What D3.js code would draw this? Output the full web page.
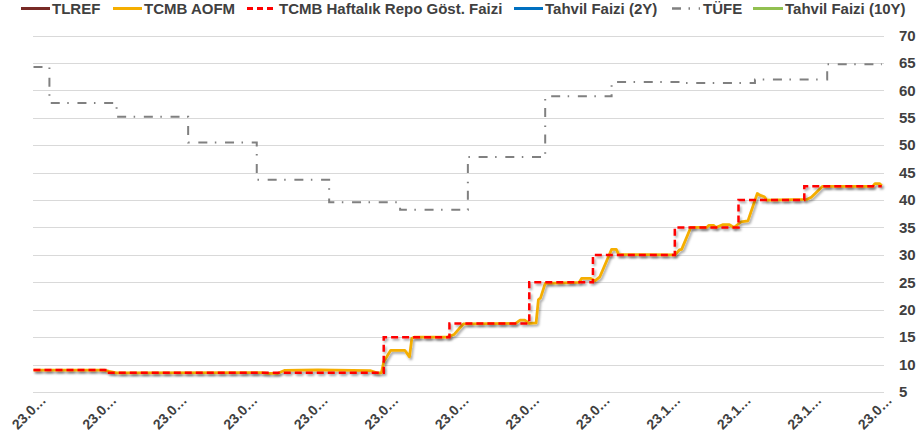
<!DOCTYPE html>
<html>
<head>
<meta charset="utf-8">
<script src="https://cdn.jsdelivr.net/npm/d3@7"></script>
<style>
  body { margin: 0; background: #fff; }
  text { font-family: "Liberation Sans", Arial, sans-serif; font-weight: bold; fill: #404040; }
</style>
</head>
<body>
<div class="chart"></div>
<script>
// monthly tick dates and their (truncated) labels
var tickDates = ["2023-01-23", "2023-02-23", "2023-03-23", "2023-04-23", "2023-05-23", "2023-06-23",
  "2023-07-23", "2023-08-23", "2023-09-23", "2023-10-23", "2023-11-23", "2023-12-23", "2024-01-23"];
var tickLabels = ["23.0…", "23.0…", "23.0…", "23.0…", "23.0…", "23.0…", "23.0…",
  "23.0…", "23.0…", "23.1…", "23.1…", "23.1…", "23.0…"];
var yTicks = [5, 10, 15, 20, 25, 30, 35, 40, 45, 50, 55, 60, 65, 70];

var legendNames = ["TLREF", "TCMB AOFM", "TCMB Haftalık Repo Göst. Faizi", "Tahvil Faizi (2Y)", "TÜFE", "Tahvil Faizi (10Y)"];

// TCMB one week repo (step)
var repo = [["2023-01-23", 9], ["2023-02-24", 8.5], ["2023-06-22", 15], ["2023-07-20", 17.5],
  ["2023-08-24", 25], ["2023-09-21", 30], ["2023-10-26", 35], ["2023-11-23", 40],
  ["2023-12-21", 42.5], ["2024-01-24", 42.5]];

// TCMB weighted average funding cost
var aofm = [["2023-01-23", 9.0], ["2023-02-23", 9.0], ["2023-02-25", 8.75], ["2023-02-28", 8.5],
  ["2023-04-30", 8.55], ["2023-05-03", 8.4], ["2023-05-07", 8.4], ["2023-05-10", 8.95],
  ["2023-05-24", 9.05], ["2023-06-16", 8.9], ["2023-06-19", 8.5], ["2023-06-21", 8.5],
  ["2023-06-22", 10.5], ["2023-06-25", 12.6], ["2023-07-01", 12.6], ["2023-07-03", 11.4],
  ["2023-07-04", 14.8], ["2023-07-05", 15.0], ["2023-07-19", 15.0], ["2023-07-22", 15.5],
  ["2023-07-26", 17.4], ["2023-08-18", 17.5], ["2023-08-20", 18.1], ["2023-08-22", 18.1],
  ["2023-08-24", 17.5], ["2023-08-27", 17.6], ["2023-08-28", 21.8], ["2023-08-29", 22.2],
  ["2023-08-31", 24.8], ["2023-09-15", 25.0], ["2023-09-16", 25.7], ["2023-09-20", 25.7],
  ["2023-09-22", 25.3], ["2023-09-24", 26.0], ["2023-09-29", 31.0], ["2023-10-01", 31.0],
  ["2023-10-02", 30.1], ["2023-10-26", 30.0], ["2023-10-28", 30.9], ["2023-10-29", 31.0],
  ["2023-11-02", 35.0], ["2023-11-09", 35.0], ["2023-11-10", 35.4], ["2023-11-12", 35.4],
  ["2023-11-13", 35.0], ["2023-11-16", 35.5], ["2023-11-19", 35.5], ["2023-11-21", 35.0],
  ["2023-11-24", 36.0], ["2023-11-27", 36.2], ["2023-12-01", 41.2], ["2023-12-02", 40.9],
  ["2023-12-04", 40.6], ["2023-12-05", 40.0], ["2023-12-22", 40.1], ["2023-12-24", 40.5],
  ["2023-12-29", 42.5], ["2024-01-20", 42.5], ["2024-01-21", 43.0], ["2024-01-23", 43.0],
  ["2024-01-24", 42.6]];

// annual CPI (step)
var tufe = [["2023-01-23", 64.27], ["2023-01-30", 57.68], ["2023-02-28", 55.18], ["2023-03-29", 50.51],
  ["2023-04-28", 43.68], ["2023-05-29", 39.59], ["2023-06-29", 38.21], ["2023-07-28", 47.83],
  ["2023-08-31", 58.94], ["2023-09-29", 61.53], ["2023-10-30", 61.36], ["2023-11-30", 61.98],
  ["2023-12-31", 64.77], ["2024-01-24", 64.77]];

var parse = d3.timeParse("%Y-%m-%d");
var width = 922, height = 440;
var left = 33, right = 884;

var svg = d3.select(".chart")
  .append("svg")
    .attr("width", width)
    .attr("height", height);

var defs = svg.append("defs");
defs.append("filter")
    .attr("id", "shadow")
    .attr("x", "-5%").attr("y", "-20%").attr("width", "110%").attr("height", "140%")
  .append("feDropShadow")
    .attr("dx", 1.5).attr("dy", 2)
    .attr("stdDeviation", 1.3)
    .attr("flood-color", "#000")
    .attr("flood-opacity", 0.35);

// labels are evenly spaced, so map each monthly tick to an equal step
var x = d3.scaleTime()
  .domain(tickDates.map(parse))
  .range(tickDates.map(function(d, i) { return 33.5 + i * 70.5; }));

var y = d3.scaleLinear()
  .domain([5, 70])
  .range([392, 35.5]);

// gridlines
svg.append("g")
  .selectAll("line")
  .data(yTicks)
  .enter()
  .append("line")
    .attr("x1", left).attr("x2", right)
    .attr("y1", function(d) { return Math.round(y(d)) + 0.5; })
    .attr("y2", function(d) { return Math.round(y(d)) + 0.5; })
    .attr("stroke", "#d9d9d9")
    .attr("stroke-width", 1);

// right y axis labels
svg.append("g")
  .selectAll("text")
  .data(yTicks)
  .enter()
  .append("text")
    .attr("x", 899)
    .attr("y", function(d) { return y(d); })
    .attr("dy", "0.35em")
    .style("font-size", "15px")
    .text(function(d) { return d; });

// rotated x labels
svg.append("g")
  .selectAll("text")
  .data(tickDates)
  .enter()
  .append("text")
    .attr("transform", function(d) { return "translate(" + (x(parse(d)) + 13.5) + ",401) rotate(-45)"; })
    .attr("text-anchor", "end")
    .style("font-size", "14px")
    .text(function(d, i) { return tickLabels[i]; });

function toPts(arr) {
  return arr.map(function(d) { return [parse(d[0]), d[1]]; });
}

var lineLinear = d3.line()
  .x(function(d) { return x(d[0]); })
  .y(function(d) { return y(d[1]); });

var lineStep = d3.line()
  .curve(d3.curveStepAfter)
  .x(function(d) { return x(d[0]); })
  .y(function(d) { return y(d[1]); });

svg.append("path")
  .datum(toPts(tufe))
  .attr("d", lineStep)
  .attr("fill", "none")
  .attr("stroke", "#808080")
  .attr("stroke-width", 2)
  .attr("stroke-dasharray", "9,7.5,1.5,8.7");

svg.append("path")
  .datum(toPts(aofm))
  .attr("d", lineLinear)
  .attr("fill", "none")
  .attr("stroke", "#f5ae00")
  .attr("stroke-width", 2.75)
  .attr("stroke-linejoin", "round")
  .attr("filter", "url(#shadow)");

svg.append("path")
  .datum(toPts(repo))
  .attr("d", lineStep)
  .attr("fill", "none")
  .attr("stroke", "#ff0000")
  .attr("stroke-width", 2.5)
  .attr("stroke-dasharray", "7,4")
  .attr("filter", "url(#shadow)");

// legend
var legendStyle = [
  {x1: 21, x2: 50, tx: 52, color: "#782a26", dash: null, w: 3},
  {x1: 113, x2: 142, tx: 144, color: "#f5ae00", dash: null, w: 3},
  {x1: 247, x2: 273, tx: 279, color: "#ff0000", dash: "6,4", w: 3},
  {x1: 514, x2: 543, tx: 545, color: "#0070c0", dash: null, w: 3},
  {x1: 672, x2: 700, tx: 703, color: "#808080", dash: "9,7.5,1.5,8.7", w: 2.5},
  {x1: 753, x2: 783, tx: 785, color: "#92c050", dash: null, w: 3}
];

var legend = svg.append("g")
  .selectAll("g")
  .data(legendNames)
  .enter()
  .append("g");

legend.append("line")
  .attr("x1", function(d, i) { return legendStyle[i].x1; })
  .attr("x2", function(d, i) { return legendStyle[i].x2; })
  .attr("y1", 8.5).attr("y2", 8.5)
  .attr("stroke", function(d, i) { return legendStyle[i].color; })
  .attr("stroke-width", function(d, i) { return legendStyle[i].w; })
  .attr("stroke-dasharray", function(d, i) { return legendStyle[i].dash; });

legend.append("text")
  .attr("x", function(d, i) { return legendStyle[i].tx; })
  .attr("y", 13.5)
  .style("font-size", "15px")
  .text(function(d) { return d; });
</script>
</body>
</html>
